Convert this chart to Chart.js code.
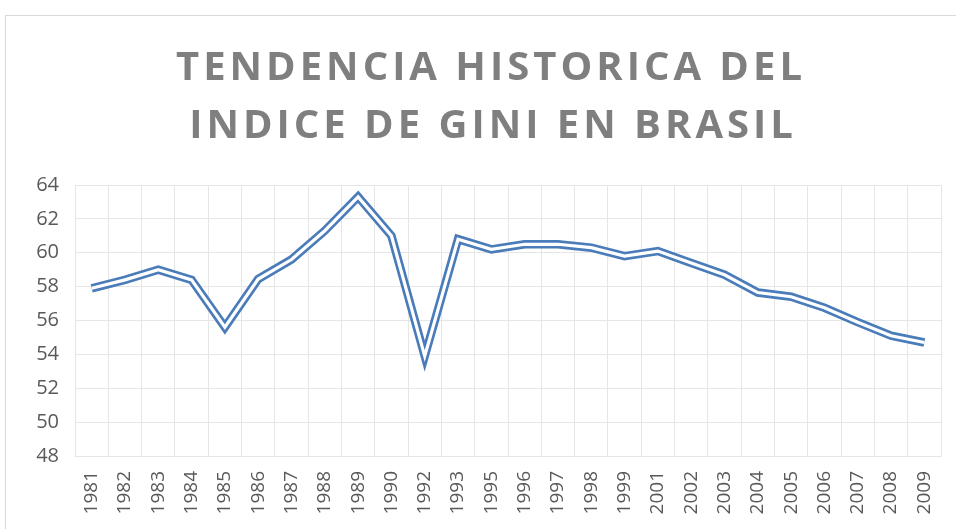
<!DOCTYPE html>
<html>
<head>
<meta charset="utf-8">
<script src="https://cdn.jsdelivr.net/npm/chart.js@4"></script>
<style>
  body { margin: 0; background: #fff; }
  #wrap { width: 956px; height: 529px; }
</style>
</head>
<body>
<div id="wrap"><canvas id="chartGini"></canvas></div>
<script>
// Indice de Gini de Brasil
const years = ['1981', '1982', '1983', '1984', '1985', '1986', '1987', '1988', '1989', '1990',
    '1992', '1993', '1995', '1996', '1997', '1998', '1999', '2001', '2002', '2003',
    '2004', '2005', '2006', '2007', '2008', '2009'];
const giniValues = [57.9, 58.4, 59.0, 58.4, 55.6, 58.45, 59.6, 61.3, 63.3, 61.0,
    53.9, 60.8, 60.2, 60.5, 60.5, 60.3, 59.8, 60.1, 59.4, 58.7,
    57.65, 57.4, 56.75, 55.9, 55.1, 54.7];
const titleLines = ['TENDENCIA HISTORICA DEL', 'INDICE DE GINI EN BRASIL'];

const lineBlue = '#4a7cba';
const gridGrey = '#e6e6e6';

// titulo con espaciado entre letras y borde del area del grafico
const titleAndFrame = {
    id: 'titleAndFrame',
    beforeDraw(chart) {
        const ctx = chart.ctx;
        ctx.save();
        ctx.strokeStyle = '#d9d9d9';
        ctx.lineWidth = 1;
        ctx.strokeRect(5.5, 15.5, 1000, 1000);
        ctx.restore();
    },
    afterDraw(chart) {
        const ctx = chart.ctx;
        ctx.save();
        ctx.fillStyle = '#7f7f7f';
        ctx.font = 'bold 40px "Open Sans"';
        ctx.letterSpacing = '4px';
        ctx.textAlign = 'center';
        ctx.textBaseline = 'alphabetic';
        ctx.fillText(titleLines[0], 491, 80);
        ctx.fillText(titleLines[1], 493, 138);
        ctx.restore();
    }
};

const ctxGini = document.getElementById('chartGini').getContext('2d');
const chartGini = new Chart(ctxGini, {
    type: 'line',
    data: {
        labels: years,
        datasets: [{
            // linea interior blanca -> efecto de linea doble
            label: 'Gini (interior)',
            data: giniValues,
            borderColor: '#ffffff',
            borderWidth: 3.2,
            borderJoinStyle: 'miter',
            pointRadius: 0,
            tension: 0,
            order: 0
        }, {
            label: 'Gini',
            data: giniValues,
            borderColor: lineBlue,
            borderWidth: 8.5,
            borderJoinStyle: 'miter',
            pointRadius: 0,
            tension: 0,
            order: 1
        }]
    },
    options: {
        responsive: true,
        maintainAspectRatio: false,
        animation: false,
        layout: {
            padding: { top: 185, right: 15, left: 0, bottom: 0 }
        },
        plugins: {
            legend: { display: false },
            tooltip: { enabled: false }
        },
        scales: {
            x: {
                offset: true,
                grid: { offset: true, color: gridGrey, drawTicks: false },
                border: { color: gridGrey },
                ticks: {
                    color: '#595959',
                    font: { family: '"Open Sans"', size: 19 },
                    minRotation: 90,
                    maxRotation: 90,
                    autoSkip: false,
                    padding: 15
                },
                afterFit(scale) {
                    scale.height = 73;
                    scale.paddingLeft = 0;
                    scale.paddingRight = 0;
                }
            },
            y: {
                min: 48,
                max: 64,
                grid: { color: gridGrey, drawTicks: false },
                border: { display: false },
                ticks: {
                    stepSize: 2,
                    color: '#595959',
                    font: { family: '"Open Sans"', size: 20 },
                    padding: 16
                },
                afterFit(scale) { scale.width = 75; }
            }
        }
    },
    plugins: [titleAndFrame]
});
</script>
</body>
</html>
